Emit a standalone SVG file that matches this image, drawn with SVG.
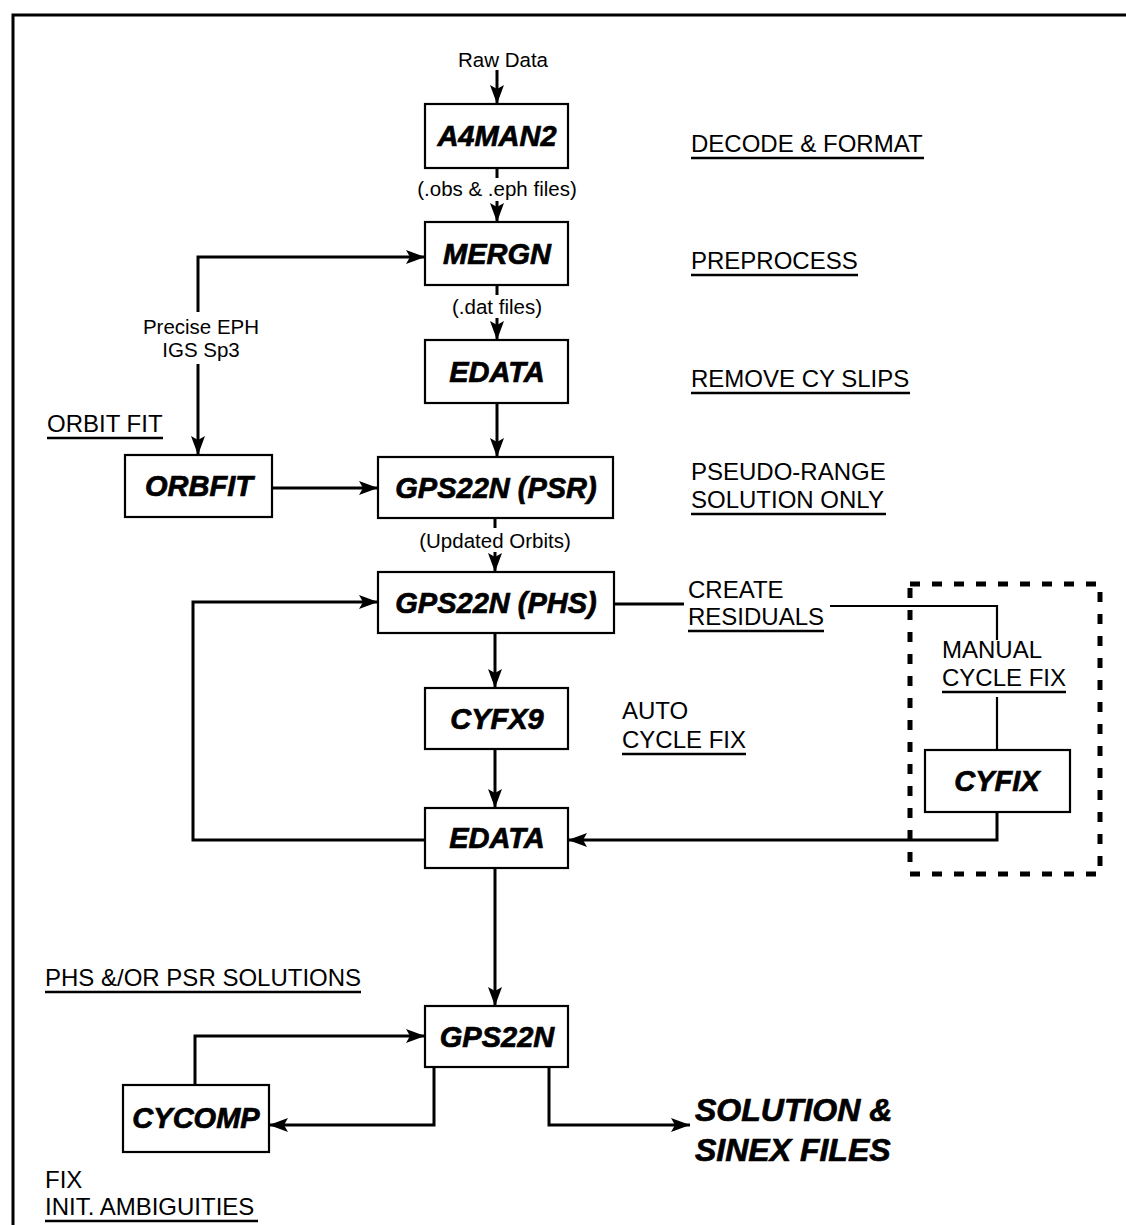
<svg xmlns="http://www.w3.org/2000/svg" width="1126" height="1225" viewBox="0 0 1126 1225">
<style>
.box{fill:#fff;stroke:#000;stroke-width:2.2}
.lbl{font-family:"Liberation Sans",Arial,sans-serif;font-size:29px;font-weight:bold;font-style:italic;text-anchor:middle;fill:#000;stroke:#000;stroke-width:0.7}
.t{font-family:"Liberation Sans",Arial,sans-serif;font-size:24px;fill:#000}
.s{font-family:"Liberation Sans",Arial,sans-serif;font-size:20.5px;fill:#000;text-anchor:middle}
.big{font-family:"Liberation Sans",Arial,sans-serif;font-size:32px;font-weight:bold;font-style:italic;fill:#000;stroke:#000;stroke-width:0.7}
.c{stroke:#000;stroke-width:3;fill:none}
.ca{stroke:#000;stroke-width:3;fill:none;marker-end:url(#ah)}
.thin{stroke:#000;stroke-width:2.2;fill:none}
.ul{stroke:#000;stroke-width:2.5}
</style>
<defs>
<marker id="ah" markerUnits="userSpaceOnUse" markerWidth="20" markerHeight="16" refX="19" refY="8" orient="auto"><path d="M0,1 L19,8 L0,15 L4,8 z" fill="#000"/></marker>
</defs>
<rect width="1126" height="1225" fill="#fff"/>
<path d="M13,1225 V15 H1126" class="c"/>

<g id="connectors">
<path d="M497,70 V104" class="ca"/>
<path d="M497,168 V178" class="c"/>
<path d="M497,201 V222" class="ca"/>
<path d="M497,285 V295" class="c"/>
<path d="M497,318 V340" class="ca"/>
<path d="M497,403 V457" class="ca"/>
<path d="M198,312 V257 H425" class="ca"/>
<path d="M198,364 V455" class="ca"/>
<path d="M272,488 H378" class="ca"/>
<path d="M495,518 V528" class="c"/>
<path d="M495,552 V572" class="ca"/>
<path d="M495,633 V688" class="ca"/>
<path d="M495,749 V808" class="ca"/>
<path d="M425,840 H193 V602 H378" class="ca"/>
<path d="M614,604 H684" class="c"/>
<path d="M830,606 H997 V640" class="thin"/>
<path d="M997,697 V750" class="thin"/>
<path d="M997,812 V840 H568" class="ca"/>
<path d="M495,868 V1006" class="ca"/>
<path d="M195,1085 V1036 H425" class="ca"/>
<path d="M434,1067 V1125 H269" class="ca"/>
<path d="M549,1067 V1125 H690" class="ca"/>
</g>

<rect x="910" y="584" width="190" height="290" fill="none" stroke="#000" stroke-width="5" stroke-dasharray="10 12"/>

<g id="n-a4man2"><rect class="box" x="425" y="104" width="143" height="64"/><text class="lbl" x="497" y="146">A4MAN2</text></g>
<g id="n-mergn"><rect class="box" x="425" y="222" width="143" height="63"/><text class="lbl" x="497" y="264">MERGN</text></g>
<g id="n-edata1"><rect class="box" x="425" y="340" width="143" height="63"/><text class="lbl" x="497" y="382">EDATA</text></g>
<g id="n-orbfit"><rect class="box" x="125" y="455" width="147" height="62"/><text class="lbl" x="199" y="496">ORBFIT</text></g>
<g id="n-psr"><rect class="box" x="378" y="457" width="235" height="61"/><text class="lbl" x="496" y="498">GPS22N (PSR)</text></g>
<g id="n-phs"><rect class="box" x="378" y="572" width="236" height="61"/><text class="lbl" x="496" y="613">GPS22N (PHS)</text></g>
<g id="n-cyfx9"><rect class="box" x="425" y="688" width="143" height="61"/><text class="lbl" x="497" y="729">CYFX9</text></g>
<g id="n-cyfix"><rect class="box" x="925" y="750" width="145" height="62"/><text class="lbl" x="997" y="791">CYFIX</text></g>
<g id="n-edata2"><rect class="box" x="425" y="808" width="143" height="60"/><text class="lbl" x="497" y="848">EDATA</text></g>
<g id="n-gps22n"><rect class="box" x="425" y="1006" width="143" height="61"/><text class="lbl" x="497" y="1047">GPS22N</text></g>
<g id="n-cycomp"><rect class="box" x="123" y="1085" width="146" height="67"/><text class="lbl" x="196" y="1128">CYCOMP</text></g>

<g id="labels">
<text class="s" x="503" y="67">Raw Data</text>
<text class="s" x="497" y="196">(.obs &amp; .eph files)</text>
<text class="s" x="497" y="314">(.dat files)</text>
<text class="s" x="201" y="334">Precise EPH</text>
<text class="s" x="201" y="357">IGS Sp3</text>
<text class="s" x="495" y="548">(Updated Orbits)</text>

<text class="t" x="691" y="152">DECODE &amp; FORMAT</text><line class="ul" x1="691" y1="158" x2="924" y2="158"/>
<text class="t" x="691" y="269">PREPROCESS</text><line class="ul" x1="691" y1="275" x2="858" y2="275"/>
<text class="t" x="691" y="387">REMOVE CY SLIPS</text><line class="ul" x1="691" y1="393" x2="910" y2="393"/>
<text class="t" x="47" y="432">ORBIT FIT</text><line class="ul" x1="47" y1="438" x2="163" y2="438"/>
<text class="t" x="691" y="480">PSEUDO-RANGE</text>
<text class="t" x="691" y="508">SOLUTION ONLY</text><line class="ul" x1="691" y1="514" x2="886" y2="514"/>
<text class="t" x="688" y="598">CREATE</text>
<text class="t" x="688" y="625">RESIDUALS</text><line class="ul" x1="688" y1="631" x2="824" y2="631"/>
<text class="t" x="942" y="658">MANUAL</text>
<text class="t" x="942" y="686">CYCLE FIX</text><line class="ul" x1="942" y1="692" x2="1066" y2="692"/>
<text class="t" x="622" y="719">AUTO</text>
<text class="t" x="622" y="748">CYCLE FIX</text><line class="ul" x1="622" y1="754" x2="746" y2="754"/>
<text class="t" x="45" y="986">PHS &amp;/OR PSR SOLUTIONS</text><line class="ul" x1="45" y1="992" x2="361" y2="992"/>
<text class="t" x="45" y="1188">FIX</text>
<text class="t" x="45" y="1215">INIT. AMBIGUITIES</text><line class="ul" x1="45" y1="1221" x2="258" y2="1221"/>
<text class="big" x="695" y="1121">SOLUTION &amp;</text>
<text class="big" x="695" y="1161">SINEX FILES</text>
</g>
</svg>
